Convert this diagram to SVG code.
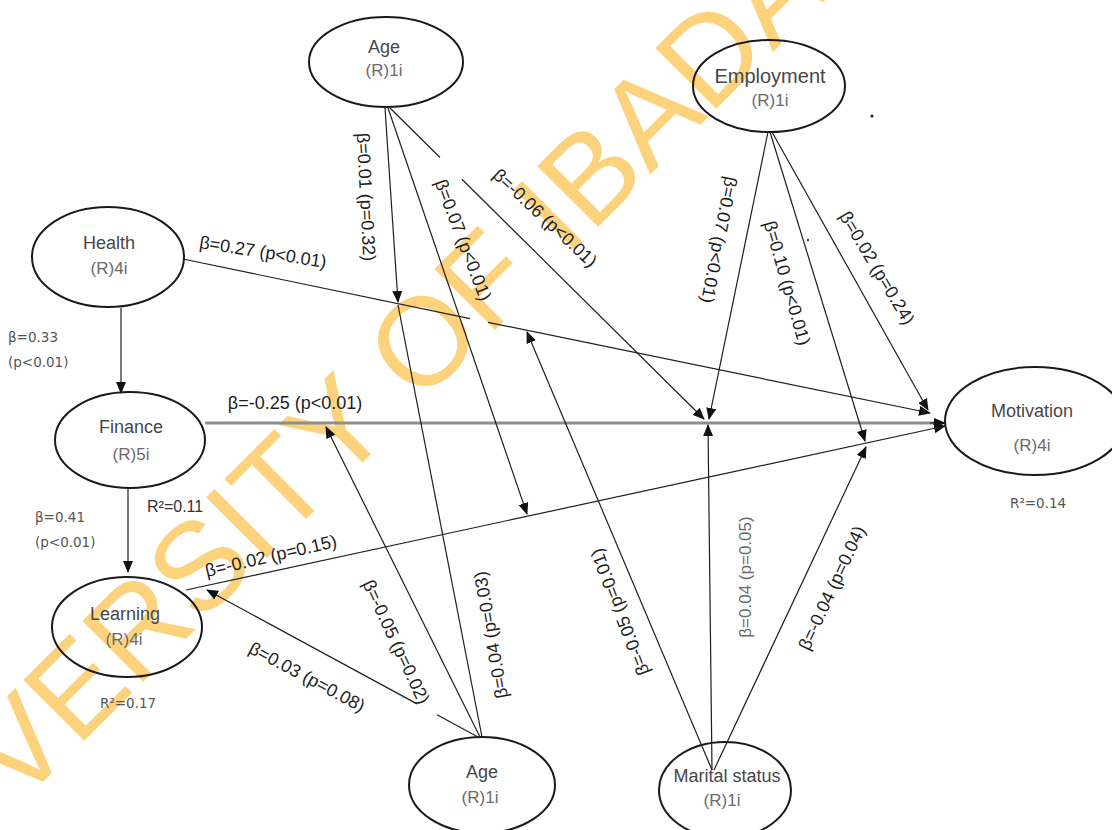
<svg xmlns="http://www.w3.org/2000/svg" width="1112" height="830" viewBox="0 0 1112 830">
<style>
.node{fill:none;stroke:#1a1a1a;stroke-width:2}
.nt{font-family:"Liberation Sans",Arial,sans-serif;font-size:18px;fill:#474747;text-anchor:middle}
.ns{font-family:"Liberation Sans",Arial,sans-serif;font-size:17px;fill:#6a6a6a;text-anchor:middle}
.c{stroke:#1e1e1e;stroke-width:1.2;fill:none}
.cg{stroke:#8e8e8e;stroke-width:3;fill:none}
.el{font-family:"Liberation Sans",Arial,sans-serif;font-size:18px;fill:#1e1e1e;text-anchor:middle;dominant-baseline:central}
.eg{font-family:"Liberation Sans",Arial,sans-serif;font-size:17px;fill:#6a6a6a;text-anchor:middle;dominant-baseline:central}
.sm{font-family:"DejaVu Sans",sans-serif;font-size:13.5px;fill:#555}
.wm{font-family:"Liberation Sans",Arial,sans-serif;font-size:125px;fill:#FDD27C}
</style>
<defs>
<marker id="ah" markerWidth="12" markerHeight="10" refX="11" refY="5" orient="auto" markerUnits="userSpaceOnUse"><path d="M0,0 L12,5 L0,10 z" fill="#111"/></marker>
</defs>
<rect width="1112" height="830" fill="#fff"/>
<text class="wm" transform="translate(18,807) rotate(-45)">VERSITY OF IBADA</text>

<g id="connectors">
<line class="c" x1="121" y1="308" x2="121" y2="393" marker-end="url(#ah)"/>
<line class="c" x1="128" y1="488" x2="128" y2="572" marker-end="url(#ah)"/>
<line class="c" x1="183" y1="259" x2="470" y2="318.6"/>
<line class="c" x1="488" y1="322.3" x2="930" y2="413" marker-end="url(#ah)"/>
<line class="cg" x1="205" y1="423" x2="934" y2="423"/>
<line class="c" x1="930" y1="423" x2="945" y2="423" marker-end="url(#ah)"/>
<line class="c" x1="186" y1="590" x2="945" y2="426" marker-end="url(#ah)"/>
<line class="c" x1="385" y1="108" x2="398" y2="302" marker-end="url(#ah)"/>
<line class="c" x1="388" y1="108" x2="527" y2="514" marker-end="url(#ah)"/>
<line class="c" x1="390" y1="108" x2="440" y2="157.5"/>
<line class="c" x1="462" y1="179.3" x2="704" y2="419" marker-end="url(#ah)"/>
<line class="c" x1="768" y1="132" x2="709" y2="419" marker-end="url(#ah)"/>
<line class="c" x1="770" y1="132" x2="865" y2="441" marker-end="url(#ah)"/>
<line class="c" x1="772" y1="132" x2="928" y2="410" marker-end="url(#ah)"/>
<line class="c" x1="478" y1="737" x2="437" y2="714.8"/>
<line class="c" x1="417" y1="703.9" x2="207" y2="590" marker-end="url(#ah)"/>
<line class="c" x1="480" y1="737" x2="326" y2="427" marker-end="url(#ah)"/>
<line class="c" x1="482" y1="737" x2="398" y2="305"/>
<line class="c" x1="712" y1="770" x2="527" y2="332" marker-end="url(#ah)"/>
<line class="c" x1="712" y1="770" x2="708" y2="425" marker-end="url(#ah)"/>
<line class="c" x1="714" y1="770" x2="866" y2="447" marker-end="url(#ah)"/>
</g>

<g id="edge-labels">
<text class="el" transform="translate(263,252) rotate(9)">β=0.27 (p&lt;0.01)</text>
<text class="el" transform="translate(295,403)">β=-0.25 (p&lt;0.01)</text>
<text class="el" transform="translate(366,197) rotate(87)">β=0.01 (p=0.32)</text>
<text class="el" transform="translate(463,240) rotate(69)">β=0.07 (p&lt;0.01)</text>
<text class="el" transform="translate(545,218) rotate(43)">β=-0.06 (p&lt;0.01)</text>
<text class="el" transform="translate(719,240) rotate(101)">β=0.07 (p&lt;0.01)</text>
<text class="el" transform="translate(787,283) rotate(74)">β=0.10 (p&lt;0.01)</text>
<text class="el" transform="translate(877,268) rotate(59)">β=0.02 (p=0.24)</text>
<text class="el" transform="translate(271,556) rotate(-13)">β=-0.02 (p=0.15)</text>
<text class="el" transform="translate(307,677) rotate(28)">β=0.03 (p=0.08)</text>
<text class="el" transform="translate(396,642) rotate(65)">β=-0.05 (p=0.02)</text>
<text class="el" transform="translate(491,635) rotate(-100)">β=0.04 (p=0.03)</text>
<text class="el" transform="translate(620,612) rotate(-111)">β=-0.05 (p=0.01)</text>
<text class="eg" transform="translate(745,577) rotate(-90)">β=0.04 (p=0.05)</text>
<text class="el" transform="translate(832,588) rotate(-65)">β=-0.04 (p=0.04)</text>
<text class="sm" x="8" y="342">β=0.33</text>
<text class="sm" x="8" y="367">(p&lt;0.01)</text>
<text class="sm" x="35" y="522">β=0.41</text>
<text class="sm" x="35" y="547">(p&lt;0.01)</text>
<text x="147" y="512" style="font-family:'Liberation Sans',Arial,sans-serif;font-size:16px;fill:#333">R²=0.11</text>
<text class="sm" x="100" y="708">R²=0.17</text>
<text class="sm" x="1010" y="508">R²=0.14</text>
<circle cx="872" cy="116" r="1.6" fill="#222"/>
<circle cx="808" cy="240" r="1.2" fill="#444"/>
</g>

<g id="age-top">
<ellipse class="node" cx="386" cy="62" rx="77" ry="45"/>
<text class="nt" x="384" y="53">Age</text>
<text class="ns" x="384" y="76">(R)1i</text>
</g>
<g id="employment">
<ellipse class="node" cx="769" cy="86" rx="76" ry="46"/>
<text class="nt" x="770" y="83" style="font-size:20px">Employment</text>
<text class="ns" x="770" y="106">(R)1i</text>
</g>
<g id="health">
<ellipse class="node" cx="108" cy="257" rx="76" ry="50"/>
<text class="nt" x="109" y="249">Health</text>
<text class="ns" x="109" y="274">(R)4i</text>
</g>
<g id="finance">
<ellipse class="node" cx="130" cy="440" rx="75" ry="48"/>
<text class="nt" x="131" y="433">Finance</text>
<text class="ns" x="131" y="460">(R)5i</text>
</g>
<g id="learning">
<ellipse class="node" cx="127" cy="627" rx="75" ry="50"/>
<text class="nt" x="125" y="620">Learning</text>
<text class="ns" x="124" y="645">(R)4i</text>
</g>
<g id="motivation">
<ellipse class="node" cx="1035" cy="421" rx="90" ry="54"/>
<text class="nt" x="1032" y="417">Motivation</text>
<text class="ns" x="1032" y="451">(R)4i</text>
</g>
<g id="age-bottom">
<ellipse class="node" cx="482" cy="785" rx="73" ry="48"/>
<text class="nt" x="482" y="778">Age</text>
<text class="ns" x="480" y="803">(R)1i</text>
</g>
<g id="marital-status">
<ellipse class="node" cx="725" cy="790" rx="66" ry="48"/>
<text class="nt" x="727" y="782">Marital status</text>
<text class="ns" x="722" y="806">(R)1i</text>
</g>
</svg>
